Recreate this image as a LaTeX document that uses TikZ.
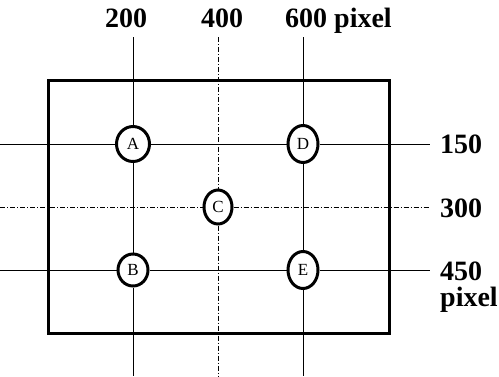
\documentclass[tikz,border=0pt]{standalone}
\usepackage{fontspec}
\setmainfont{Liberation Serif}
\usetikzlibrary{shapes.geometric}

\begin{document}
\begin{tikzpicture}[x=1pt, y=-1pt]
	% Style
	\tikzset{
		pt/.style={draw, ellipse, line width=3pt, fill=white, inner sep=0pt, minimum width=30pt, minimum height=35pt, font=\fontsize{17}{17}\selectfont},
		grid/.style={line width=1pt},
		axis/.style={line width=0.9pt, dash pattern=on 5pt off 2pt on 1pt off 2pt},
		lbl/.style={inner sep=0pt, font=\fontsize{28}{28}\selectfont\bfseries}
	}
	\useasboundingbox (0,0) rectangle (499,376);

	% Ramka obrazu
	\draw[line width=3pt] (48,80) rectangle (389,333);

	% Punkty A--E
	\node[pt, minimum width=33pt] (A) at (133,144) {A};
	\node[pt, minimum height=32pt] (B) at (133,270) {B};
	\node[pt, minimum width=28pt, minimum height=34pt] (C) at (218,207) {C};
	\node[pt, minimum height=37pt] (D) at (303,144) {D};
	\node[pt, minimum height=37pt] (E) at (303,270) {E};

	% Wolne konce linii
	\coordinate (X200top) at (133,37);
	\coordinate (X200bot) at (133,376);
	\coordinate (X400top) at (218,37);
	\coordinate (X400bot) at (218,376);
	\coordinate (X600top) at (303,37);
	\coordinate (X600bot) at (303,376);
	\coordinate (Y150left) at (0,144);
	\coordinate (Y150right) at (430,144);
	\coordinate (Y300left) at (0,207);
	\coordinate (Y300right) at (430,207);
	\coordinate (Y450left) at (0,270);
	\coordinate (Y450right) at (430,270);

	% Linie pionowe
	\draw[grid] (X200top) -- (A) -- (B) -- (X200bot);
	\draw[axis] (X400top) -- (C) -- (X400bot);
	\draw[grid] (X600top) -- (D) -- (E) -- (X600bot);

	% Linie poziome
	\draw[grid] (Y150left) -- (A) -- (D) -- (Y150right);
	\draw[axis] (Y300left) -- (C) -- (Y300right);
	\draw[grid] (Y450left) -- (B) -- (E) -- (Y450right);

	% Etykiety u gory
	\node[lbl, anchor=base] (L200) at (126,27) {200};
	\node[lbl, anchor=base] (L400) at (222,27) {400};
	\node[lbl, anchor=base west] (L600) at (285,27) {600 pixel};

	% Etykiety z prawej
	\node[lbl, anchor=base west] (L150) at (440,153) {150};
	\node[lbl, anchor=base west] (L300) at (440,217) {300};
	\node[lbl, anchor=base west] (L450) at (440,280) {450};
	\node[lbl, anchor=base west] (Lpix) at (440,306) {pixel};
\end{tikzpicture}
\end{document}
